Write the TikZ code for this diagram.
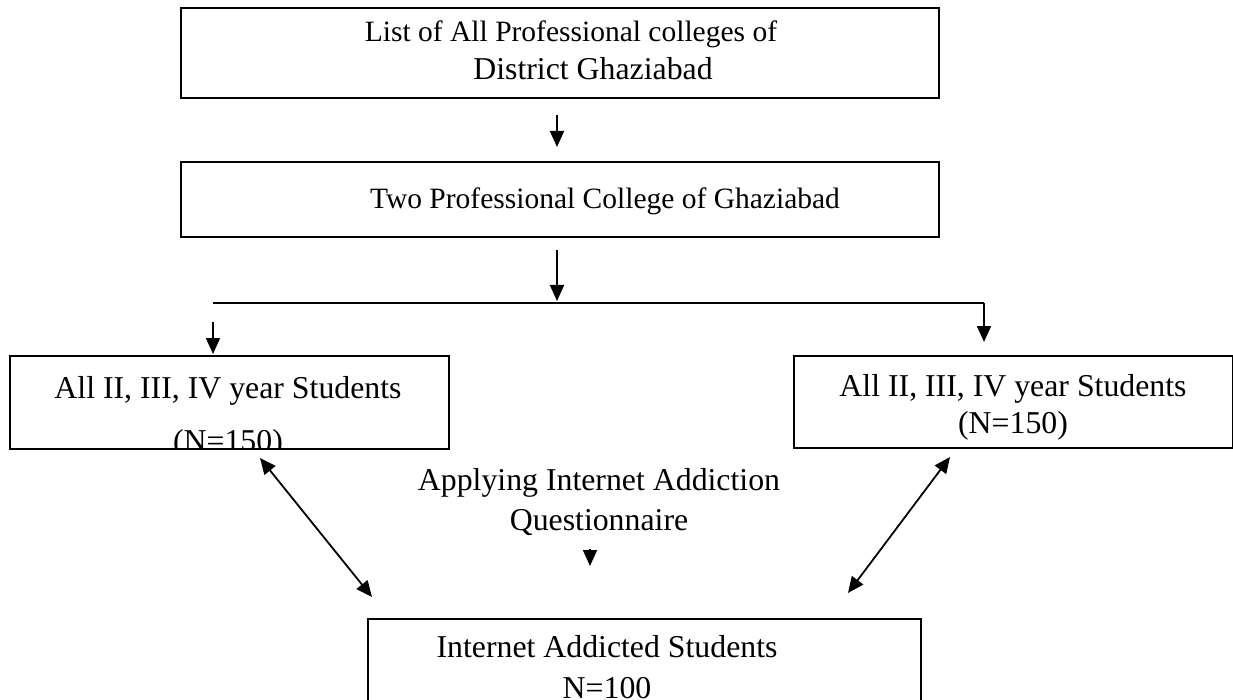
\documentclass[tikz,border=0pt]{standalone}
\usepackage{fontspec}
\setmainfont{Liberation Serif}
\usetikzlibrary{arrows.meta}
\tikzset{
  box/.style={draw, line width=1.6pt, inner sep=0pt, anchor=north west},
  arr/.style={line width=1.8pt, -{Triangle[length=16pt,width=14pt]}},
  darr/.style={line width=1.8pt, {Triangle[length=16pt,width=14pt]}-{Triangle[length=16pt,width=14pt]}},
  plain/.style={line width=1.8pt},
  txt/.style={font=\fontsize{31.8}{36}\selectfont, anchor=base, inner sep=0pt},
  stxt/.style={font=\fontsize{29.5}{34}\selectfont, anchor=base, inner sep=0pt}
}
\begin{document}
\begin{tikzpicture}[x=1pt,y=-1pt]
\useasboundingbox (0,0) rectangle (1233,700);
% boxes
\node[box, minimum width=758pt, minimum height=90pt] (top) at (180,7) {};
\node[box, minimum width=758pt, minimum height=75pt] (two) at (180,161) {};
\node[box, minimum width=439pt, minimum height=93pt] (left) at (9,355) {};
\node[box, minimum width=439pt, minimum height=92pt] (right) at (793,355) {};
\node[box, minimum width=553pt, minimum height=100pt] (bottom) at (367,618) {};
% texts
\node[stxt] (t1) at (571,42) {List of All Professional colleges of};
\node[txt] (t2) at (593,80) {District Ghaziabad};
\node[stxt] (t3) at (605,209) {Two Professional College of Ghaziabad};
\begin{scope}
\clip (9,355) rectangle (448,447);
\node[txt] (l1) at (228,398) {All II, III, IV year Students};
\node[txt] (l2) at (228,451) {(N=150)};
\end{scope}
\node[txt] (r1) at (1013,396) {All II, III, IV year Students};
\node[txt] (r2) at (1013,433) {(N=150)};
\node[txt] (q1) at (599,490) {Applying Internet Addiction};
\node[txt] (q2) at (599,530) {Questionnaire};
\begin{scope}
\clip (367,618) rectangle (920,700);
\node[txt] (b1) at (607,657) {Internet Addicted Students};
\node[txt] (b2) at (607,698) {N=100};
\end{scope}
% connector coordinates
\coordinate (a1s) at (557,115);
\coordinate (a1e) at (557,147);
\coordinate (a2s) at (557,250);
\coordinate (a2e) at (557,301);
\coordinate (hl) at (213,303);
\coordinate (hr) at (984,303);
\coordinate (la) at (213,322);
\coordinate (lae) at (213,354);
\coordinate (rae) at (984,342);
\coordinate (qs) at (590,549);
\coordinate (qe) at (590,566);
\coordinate (d1s) at (260,458);
\coordinate (d1e) at (372,597);
\coordinate (d2s) at (950,457);
\coordinate (d2e) at (848,593);
% connectors
\draw[arr] (a1s) -- (a1e);
\draw[arr] (a2s) -- (a2e);
\draw[plain] (hl) -- (hr);
\draw[arr] (la) -- (lae);
\draw[arr] (hr) -- (rae);
\draw[arr] (qs) -- (qe);
\draw[darr] (d1s) -- (d1e);
\draw[darr] (d2s) -- (d2e);
\end{tikzpicture}
\end{document}
